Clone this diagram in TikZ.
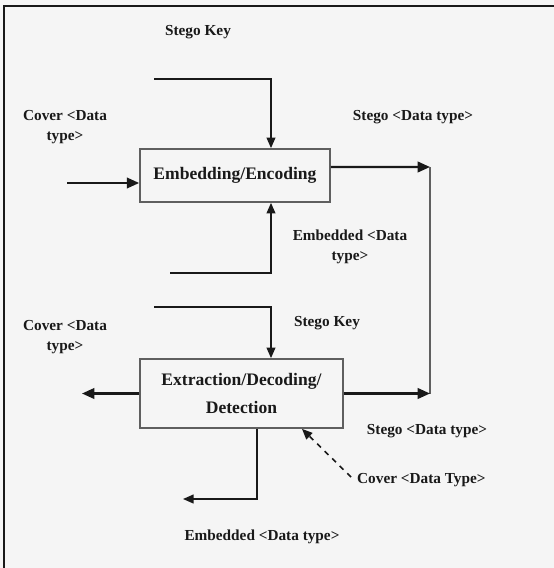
\documentclass[tikz,border=0pt]{standalone}
\usepackage{fontspec}
\setmainfont{Liberation Serif}
\usetikzlibrary{arrows.meta,positioning,calc}
\definecolor{paper}{RGB}{245,245,245}
\definecolor{ink}{RGB}{25,25,25}
\definecolor{rim}{RGB}{95,95,95}

\begin{document}
\begin{tikzpicture}[x=0.02cm,y=-0.02cm,
    blockbox/.style={draw=rim,line width=1pt,align=center,text=ink,
      font=\bfseries\fontsize{10}{15.5}\selectfont,inner sep=0pt},
    lbl/.style={font=\bfseries\fontsize{8.7}{11.4}\selectfont,align=center,text=ink},
    flow/.style={ink,line width=1.2pt,-{Triangle[length=7pt,width=6pt]}},
    feed/.style={ink,line width=0.9pt,-{Triangle[length=6pt,width=5pt]}}]
  \fill[paper] (0,0) rectangle (554,568);
  \useasboundingbox (0,0) rectangle (554,568);
  \draw[ink,line width=1.2pt] (4,568) -- (4,6) -- (554,6);

  % the two blocks
  \node[blockbox,minimum width=3.8cm,minimum height=1.06cm] (embed) at (235,175.5) {Embedding/Encoding};
  \node[blockbox,minimum width=4.06cm,minimum height=1.38cm] (extract) at (241.5,393.5) {Extraction/Decoding/\\Detection};

  % labels
  \node[lbl] (keytop) at (198,32) {Stego Key};
  \node[lbl] (covertop) at (65,127) {Cover <Data\\type>};
  \node[lbl] (stegotop) at (413,117) {Stego <Data type>};
  \node[lbl] (embtop) at (350,247) {Embedded <Data\\type>};
  \node[lbl] (coverbot) at (65,337) {Cover <Data\\type>};
  \node[lbl] (keybot) at (327,323) {Stego Key};
  \node[lbl] (stegobot) at (427,431) {Stego <Data type>};
  \node[lbl,anchor=west] (attack) at (351,480) {Cover <Data Type>};
  \node[lbl] (embbot) at (262,537) {Embedded <Data type>};

  % free ends
  \coordinate (keyin) at (154,79);
  \coordinate (embin) at (170,273);
  \coordinate (coverin) at (67,183);
  \coordinate (busA) at (430,167);
  \coordinate (busB) at (430,393.5);
  \coordinate (keyin2) at (154,307);
  \coordinate (coverout) at (82,393.5);
  \coordinate (embout) at (183,499);

  % embedding side
  \draw[feed] (keyin) -| ([xshift=0.72cm]embed.north);
  \draw[feed] (embin) -| ([xshift=0.72cm]embed.south);
  \draw[flow] (coverin) -- (coverin -| embed.west);
  \draw[flow] ([yshift=0.17cm]embed.east) -- (busA);
  \draw[rim,line width=0.9pt] (busA) -- (busB);

  % extraction side
  \draw[feed] (keyin2) -| ([xshift=0.59cm]extract.north);
  \draw[flow] (extract.west) -- (coverout);
  \draw[flow] (extract.east) -- (busB);
  \draw[feed] ([xshift=0.31cm]extract.south) |- (embout);
  \draw[feed,dashed] ([yshift=0.06cm]attack.west) -- ([xshift=1.21cm]extract.south);
\end{tikzpicture}
\end{document}
